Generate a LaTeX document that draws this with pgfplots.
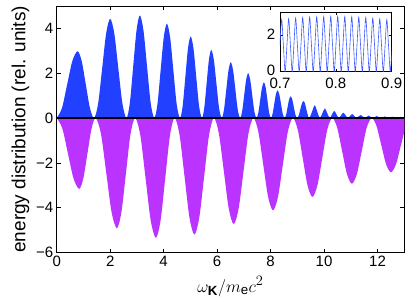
\documentclass[border=0pt]{standalone}
\usepackage{pgfplots}
\pgfplotsset{compat=1.18}
\usepackage{fontspec}
\setmainfont{Liberation Sans}
\definecolor{eblue}{RGB}{34,64,255}
\definecolor{emag}{RGB}{187,51,255}
\definecolor{iblue}{RGB}{60,90,255}
\begin{document}
\begin{tikzpicture}
\begin{axis}[name=main, scale only axis, width=347.6pt, height=246.5pt,
  xmin=0, xmax=13, ymin=-6, ymax=5,
  xtick={0,2,4,6,8,10,12}, xticklabels={0,2,4,6,8,10,12},
  ytick={-6,-4,-2,0,2,4}, yticklabels={−6,−4,−2,0,2,4},
  tick align=inside, major tick length=4pt,
  ticklabel style={font=\fontsize{15}{15}\selectfont},
  xlabel={$\omega_{\mathbf{K}}/m_{\mathrm{e}}c^2$},
  xlabel style={font=\fontsize{19}{19}\selectfont, yshift=-3pt},
  ylabel={energy distribution (rel. units)},
  ylabel style={font=\fontsize{19}{19}\selectfont},
  axis line style={line width=0.6pt},
  tick style={line width=0.5pt, black},
]
\addplot[fill=eblue, draw=none, smooth] coordinates {
(0,0) (0.195,0.436) (0.39,1.49) (0.585,2.544) (0.78,2.98) (0.935,2.544) (1.09,1.49) (1.245,0.436) (1.40,0)
(1.55,0.649) (1.70,2.215) (1.85,3.781) (2.00,4.43) (2.1525,3.781) (2.305,2.215) (2.4575,0.649) (2.61,0)
(2.735,0.671) (2.86,2.29) (2.985,3.909) (3.11,4.58) (3.245,3.909) (3.38,2.29) (3.515,0.671) (3.65,0)
(3.7675,0.616) (3.885,2.105) (4.0025,3.594) (4.12,4.21) (4.2425,3.594) (4.365,2.105) (4.4875,0.616) (4.61,0)
(4.71,0.533) (4.81,1.82) (4.91,3.107) (5.01,3.64) (5.115,3.107) (5.22,1.82) (5.325,0.533) (5.43,0)
(5.5175,0.445) (5.605,1.52) (5.6925,2.595) (5.78,3.04) (5.8775,2.595) (5.975,1.52) (6.0725,0.445) (6.17,0)
(6.255,0.365) (6.34,1.245) (6.425,2.125) (6.51,2.49) (6.5975,2.125) (6.685,1.245) (6.7725,0.365) (6.86,0)
(6.935,0.293) (7.01,1.0) (7.085,1.707) (7.16,2.0) (7.2375,1.707) (7.315,1.0) (7.3925,0.293) (7.47,0)
(7.54,0.234) (7.61,0.8) (7.68,1.366) (7.75,1.6) (7.815,1.366) (7.88,0.8) (7.945,0.234) (8.01,0)
(8.0725,0.182) (8.135,0.62) (8.1975,1.058) (8.26,1.24) (8.325,1.058) (8.39,0.62) (8.455,0.182) (8.52,0)
(8.5775,0.142) (8.635,0.485) (8.6925,0.828) (8.75,0.97) (8.81,0.828) (8.87,0.485) (8.93,0.142) (8.99,0)
(9.05,0.111) (9.11,0.38) (9.17,0.649) (9.23,0.76) (9.285,0.649) (9.34,0.38) (9.395,0.111) (9.45,0)
(9.55,0.285) (9.65,0.57) (9.745,0.285) (9.84,0)
(9.935,0.215) (10.03,0.43) (10.12,0.215) (10.21,0)
(10.295,0.16) (10.38,0.32) (10.465,0.16) (10.55,0)
(10.635,0.12) (10.72,0.24) (10.805,0.12) (10.89,0)
(10.97,0.09) (11.05,0.18) (11.13,0.09) (11.21,0)
(11.29,0.07) (11.37,0.14) (11.445,0.07) (11.52,0)
(11.595,0.055) (11.67,0.11) (11.745,0.055) (11.82,0)
(11.895,0.045) (11.97,0.09) (12.045,0.045) (12.12,0)
(12.195,0.035) (12.27,0.07) (12.34,0.035) (12.41,0)
(12.485,0.03) (12.56,0.06) (12.63,0.03) (12.70,0)
(12.775,0.025) (12.85,0.05) (12.925,0.025) (13.0,0)
};
\addplot[fill=emag, draw=none, smooth] coordinates {
(0,0) (0.21,-0.463) (0.42,-1.58) (0.63,-2.697) (0.84,-3.16) (0.995,-2.697) (1.15,-1.58) (1.305,-0.463) (1.46,0)
(1.6575,-0.72) (1.855,-2.46) (2.0525,-4.20) (2.25,-4.92) (2.42,-4.20) (2.59,-2.46) (2.76,-0.72) (2.935,0)
(3.129,-0.783) (3.3225,-2.675) (3.516,-4.567) (3.71,-5.35) (3.885,-4.567) (4.06,-2.675) (4.235,-0.783) (4.41,0)
(4.595,-0.761) (4.78,-2.60) (4.965,-4.439) (5.15,-5.20) (5.3325,-4.439) (5.515,-2.60) (5.6975,-0.761) (5.88,0)
(6.065,-0.692) (6.25,-2.365) (6.435,-4.038) (6.62,-4.73) (6.804,-4.038) (6.9875,-2.365) (7.171,-0.692) (7.355,0)
(7.539,-0.603) (7.7225,-2.06) (7.906,-3.517) (8.09,-4.12) (8.275,-3.517) (8.46,-2.06) (8.645,-0.603) (8.83,0)
(9.014,-0.515) (9.1975,-1.76) (9.381,-3.005) (9.565,-3.52) (9.75,-3.005) (9.935,-1.76) (10.12,-0.515) (10.305,0)
(10.489,-0.429) (10.6725,-1.465) (10.856,-2.501) (11.04,-2.93) (11.225,-2.501) (11.41,-1.465) (11.595,-0.429) (11.78,0)
(11.96,-0.354) (12.14,-1.21) (12.32,-2.066) (12.5,-2.42) (12.6875,-2.066) (12.875,-1.21) (13.0625,-0.354) (13.25,0)
};
\addplot[black, line width=1.2pt] coordinates {(0,0) (13,0)};
\coordinate (insetpos) at (axis cs:8.35,2.07);
\end{axis}
\begin{axis}[at={(insetpos)}, anchor=south west, scale only axis,
  width=111.7pt, height=59.7pt,
  xmin=0.7, xmax=0.9, ymin=0, ymax=3.3,
  xtick={0.7,0.8,0.9}, xticklabels={0.7,0.8,0.9},
  ytick={0,2}, yticklabels={0,2},
  tick align=inside, major tick length=3pt,
  ticklabel style={font=\fontsize{15}{15}\selectfont, inner sep=0.5pt},
  xticklabel style={yshift=-6pt},
  yticklabel style={xshift=-4pt, yshift=1pt},
  axis line style={line width=0.6pt},
  tick style={line width=0.5pt, black},
  axis background/.style={fill=white},
]
\addplot[iblue, line width=0.6pt, smooth] coordinates {
(0.6999,1.45) (0.7030,2.89) (0.7061,1.45) (0.7093,0)
(0.7125,1.47) (0.7156,2.93) (0.7187,1.47) (0.7219,0)
(0.7250,1.49) (0.7281,2.97) (0.7312,1.49) (0.7344,0)
(0.7376,1.50) (0.7407,2.99) (0.7438,1.50) (0.7470,0)
(0.7501,1.51) (0.7532,3.02) (0.7563,1.51) (0.7595,0)
(0.7627,1.52) (0.7658,3.03) (0.7689,1.52) (0.7721,0)
(0.7752,1.52) (0.7783,3.04) (0.7814,1.52) (0.7846,0)
(0.7878,1.53) (0.7909,3.05) (0.7940,1.53) (0.7972,0)
(0.8003,1.53) (0.8034,3.05) (0.8065,1.53) (0.8097,0)
(0.8129,1.52) (0.8160,3.04) (0.8191,1.52) (0.8223,0)
(0.8254,1.52) (0.8285,3.03) (0.8316,1.52) (0.8348,0)
(0.8380,1.51) (0.8411,3.01) (0.8442,1.51) (0.8474,0)
(0.8505,1.50) (0.8536,2.99) (0.8567,1.50) (0.8599,0)
(0.8631,1.48) (0.8662,2.96) (0.8693,1.48) (0.8725,0)
(0.8756,1.46) (0.8787,2.92) (0.8818,1.46) (0.8850,0)
(0.8882,1.44) (0.8913,2.88) (0.8944,1.44) (0.8976,0)
(0.9007,1.43)
};
\end{axis}
\pgfresetboundingbox
\path ([shift={(-56.7pt,-52.5pt)}]main.south west) rectangle ([shift={(4.7pt,6pt)}]main.north east);
\end{tikzpicture}
\end{document}
